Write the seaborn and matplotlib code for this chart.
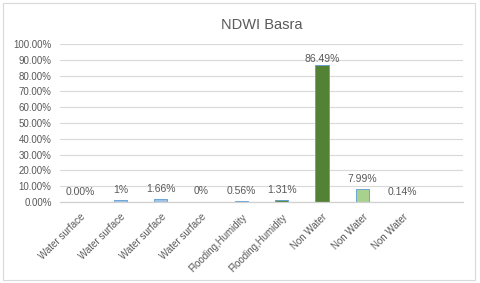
import matplotlib
matplotlib.use("Agg")
import matplotlib.pyplot as plt
import matplotlib.ticker as mticker
from matplotlib.patches import Rectangle
import pandas as pd
import seaborn as sns

categories = ["Water surface", "Water surface", "Water surface", "Water surface",
              "Flooding,Humidity", "Flooding,Humidity", "Non Water", "Non Water", "Non Water"]
values = [0.0, 1.0, 1.66, 0.2, 0.56, 1.31, 86.49, 7.99, 0.14]
value_labels = ["0.00%", "1%", "1.66%", "0%", "0.56%", "1.31%", "86.49%", "7.99%", "0.14%"]
bar_colors = ["#9DC3E6", "#9DC3E6", "#9DC3E6", "#9DC3E6", "#9DC3E6",
              "#548235", "#548235", "#A9D18E", "#9DC3E6"]

df = pd.DataFrame({"pos": [str(i) for i in range(len(values))], "value": values})

sns.set_style("white")
plt.rcParams['font.family'] = ['Liberation Sans', 'DejaVu Sans']
text_color = "#595959"

fig = plt.figure(figsize=(4.8, 2.83), dpi=100)
ax = fig.add_axes([0.125, 0.286, 0.84, 0.559])

sns.barplot(data=df, x="pos", y="value", hue="pos", palette=bar_colors, legend=False,
            width=0.33, edgecolor="#5B9BD5", linewidth=0.6, saturation=1, ax=ax)

ax.set_xlim(-0.5, 9.5)
ax.set_ylim(0, 100)
ax.set_yticks(range(0, 101, 10))
ax.yaxis.set_major_formatter(mticker.FuncFormatter(lambda v, p: f"{v:.2f}%"))
ax.yaxis.grid(True, color="#D9D9D9", linewidth=0.8)
ax.set_axisbelow(True)
for s in ["top", "right", "left"]:
    ax.spines[s].set_visible(False)
ax.spines["bottom"].set_color("#D0D0D0")
ax.spines["bottom"].set_linewidth(0.9)

ax.set_xticks(range(len(categories)))
ax.set_xticklabels(categories, rotation=45, ha="right", rotation_mode="anchor",
                   fontsize=7, color=text_color)
ax.tick_params(axis="x", length=0, pad=7)
ax.tick_params(axis="y", length=0, pad=6, labelsize=7, labelcolor=text_color)
ax.set_xlabel("")
ax.set_ylabel("")

for i, (v, lab) in enumerate(zip(values, value_labels)):
    ax.text(i, min(v + 6.5, 90.5), lab, ha="center", va="center", fontsize=7.5, color=text_color)

fig.text(0.545, 0.912, "NDWI Basra", ha="center", va="center", fontsize=10.5, color=text_color)

fig.patches.append(Rectangle((0.006, 0.012), 0.984, 0.976, transform=fig.transFigure,
                             fill=False, edgecolor="#D9D9D9", linewidth=0.8))

plt.savefig("out.png", dpi=100)
